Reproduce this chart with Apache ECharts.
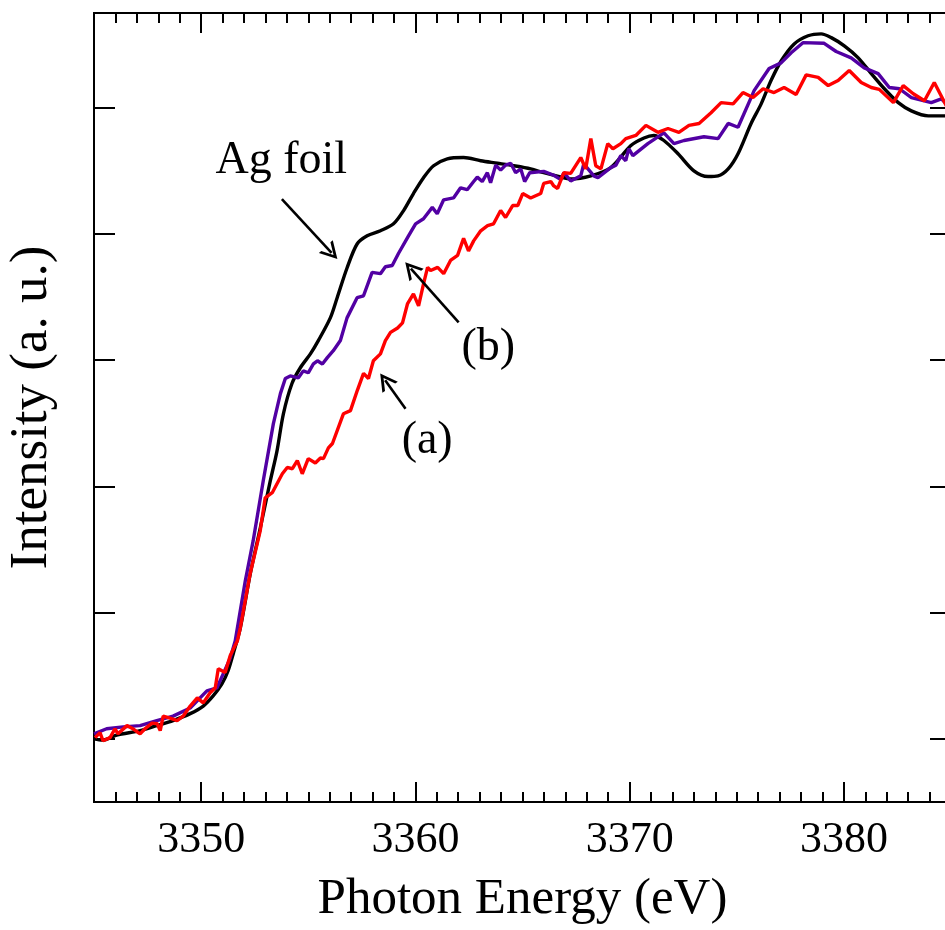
<!DOCTYPE html>
<html>
<head>
<meta charset="utf-8">
<script src="https://cdn.jsdelivr.net/npm/echarts@6/dist/echarts.min.js"></script>
<style>
html,body{margin:0;padding:0;overflow:hidden;background:#fff;}
#c{width:955px;height:930px;}
</style>
</head>
<body>
<div id="c"></div>
<script>
// ---- axis definitions ----
const xMin = 3345, xMax = 3385;
const xMajorTicks = [3350, 3360, 3370, 3380];
const yMin = -0.1, yMax = 1.15;
const yTicks = [0, 0.2, 0.4, 0.6, 0.8, 1.0];

// ---- series data [photon energy (eV), intensity (a.u.)] ----
const agFoil = [
[3345.0,0.000],[3345.4,-0.002],[3346.06,0.006],[3347.15,0.013],[3347.93,0.021],[3348.69,0.029],
[3349.49,0.040],[3350.10,0.052],[3350.56,0.068],[3350.97,0.087],[3351.26,0.108],[3351.50,0.135],
[3351.83,0.176],[3352.29,0.261],[3352.76,0.334],[3353.23,0.409],[3353.54,0.456],[3353.84,0.515],
[3354.24,0.563],[3354.63,0.588],[3355.10,0.610],[3355.47,0.631],[3356.03,0.667],[3356.35,0.699],
[3356.81,0.746],[3357.28,0.784],[3357.75,0.797],[3358.37,0.805],[3358.98,0.816],[3359.45,0.837],
[3359.91,0.864],[3360.38,0.889],[3360.85,0.908],[3361.49,0.919],[3362.25,0.921],[3363.05,0.916],
[3363.83,0.912],[3364.59,0.908],[3365.38,0.903],[3365.99,0.897],[3366.93,0.889],[3367.25,0.887],
[3368.19,0.892],[3369.12,0.905],[3370.06,0.940],[3370.67,0.952],[3371.13,0.956],[3371.60,0.948],
[3372.26,0.927],[3373.00,0.900],[3373.66,0.891],[3374.13,0.892],[3374.60,0.903],[3375.06,0.927],
[3375.67,0.975],[3376.14,1.006],[3376.60,1.043],[3377.07,1.074],[3377.68,1.101],[3378.33,1.114],
[3378.94,1.117],[3379.41,1.111],[3380.02,1.098],[3380.67,1.079],[3381.28,1.054],[3381.89,1.030],
[3382.54,1.008],[3383.15,0.995],[3383.94,0.987],[3384.78,0.987],[3385.0,0.987]
];

const sampleB = [
[3345.0,0.008],[3345.59,0.016],[3346.36,0.019],[3347.15,0.021],[3347.93,0.029],[3348.69,0.036],
[3349.49,0.049],[3350.27,0.076],[3350.74,0.081],[3351.03,0.103],[3351.36,0.128],[3351.59,0.155],
[3352.06,0.250],[3352.43,0.314],[3352.90,0.409],[3353.37,0.499],[3353.70,0.547],[3353.93,0.571],
[3354.16,0.575],[3354.54,0.572],[3354.77,0.583],[3355.00,0.580],[3355.24,0.594],[3355.43,0.599],
[3355.66,0.594],[3355.89,0.604],[3356.17,0.615],[3356.50,0.631],[3356.81,0.667],[3357.28,0.699],
[3357.58,0.702],[3357.98,0.739],[3358.37,0.737],[3358.60,0.748],[3358.92,0.750],[3359.21,0.769],
[3359.68,0.797],[3360.01,0.816],[3360.38,0.824],[3360.79,0.842],[3361.02,0.832],[3361.32,0.854],
[3361.78,0.857],[3362.11,0.873],[3362.42,0.870],[3362.72,0.883],[3362.89,0.890],[3363.12,0.883],
[3363.36,0.897],[3363.51,0.881],[3363.75,0.909],[3363.98,0.901],[3364.21,0.909],[3364.45,0.912],
[3364.68,0.897],[3364.92,0.903],[3365.10,0.883],[3365.34,0.897],[3365.99,0.899],[3366.46,0.893],
[3366.79,0.886],[3366.93,0.897],[3367.25,0.884],[3367.72,0.892],[3367.86,0.911],[3368.33,0.892],
[3368.52,0.889],[3369.12,0.905],[3369.36,0.909],[3369.59,0.924],[3369.82,0.916],[3369.96,0.935],
[3370.15,0.924],[3370.85,0.943],[3371.60,0.960],[3372.07,0.943],[3372.54,0.948],[3373.47,0.954],
[3374.13,0.951],[3374.60,0.975],[3375.06,0.969],[3375.67,1.016],[3375.81,1.027],[3376.51,1.062],
[3377.07,1.071],[3377.54,1.087],[3378.09,1.103],[3379.08,1.102],[3379.64,1.089],[3380.34,1.079],
[3380.95,1.063],[3381.60,1.054],[3382.12,1.032],[3382.59,1.030],[3383.15,1.016],[3384.08,1.008],
[3384.55,1.014],[3384.78,1.006],[3385.0,0.998]
];

const sampleA = [
[3345.05,0.002],[3345.28,0.010],[3345.42,-0.003],[3345.75,0.002],[3345.98,0.016],[3346.12,0.008],
[3346.54,0.021],[3346.82,0.016],[3347.15,0.008],[3347.38,0.016],[3347.71,0.025],[3347.95,0.024],
[3348.09,0.013],[3348.23,0.036],[3348.55,0.033],[3348.88,0.029],[3349.16,0.036],[3349.49,0.052],
[3349.82,0.065],[3350.10,0.057],[3350.42,0.073],[3350.66,0.081],[3350.80,0.111],[3351.12,0.105],
[3351.36,0.132],[3351.69,0.155],[3351.83,0.176],[3352.29,0.262],[3352.76,0.330],[3352.99,0.382],
[3353.32,0.390],[3353.79,0.420],[3354.02,0.430],[3354.26,0.428],[3354.49,0.441],[3354.72,0.420],
[3355.00,0.444],[3355.33,0.437],[3355.57,0.445],[3355.71,0.444],[3355.94,0.461],[3356.13,0.468],
[3356.64,0.515],[3356.97,0.520],[3357.30,0.553],[3357.58,0.579],[3357.81,0.571],[3358.04,0.599],
[3358.37,0.610],[3358.60,0.631],[3358.84,0.644],[3359.17,0.651],[3359.40,0.659],[3359.63,0.689],
[3359.91,0.705],[3360.15,0.686],[3360.38,0.721],[3360.57,0.747],[3360.71,0.742],[3361.04,0.747],
[3361.32,0.737],[3361.64,0.758],[3361.97,0.766],[3362.25,0.793],[3362.48,0.773],[3362.72,0.789],
[3363.05,0.805],[3363.37,0.813],[3363.65,0.816],[3363.98,0.837],[3364.21,0.826],[3364.54,0.845],
[3364.78,0.845],[3365.01,0.864],[3365.38,0.857],[3365.85,0.864],[3365.99,0.880],[3366.32,0.883],
[3366.46,0.876],[3366.64,0.872],[3366.93,0.897],[3367.25,0.896],[3367.72,0.921],[3367.95,0.903],
[3368.19,0.951],[3368.42,0.908],[3368.66,0.903],[3368.98,0.943],[3369.22,0.935],[3369.59,0.943],
[3369.82,0.951],[3370.29,0.956],[3370.76,0.972],[3371.32,0.961],[3371.79,0.967],[3372.30,0.961],
[3372.77,0.972],[3373.24,0.975],[3373.80,0.992],[3374.27,1.008],[3374.83,1.006],[3375.29,1.024],
[3375.76,1.016],[3376.23,1.030],[3376.74,1.024],[3377.21,1.032],[3377.77,1.021],[3378.24,1.052],
[3378.80,1.048],[3379.27,1.035],[3379.73,1.043],[3380.25,1.059],[3380.81,1.040],[3381.28,1.032],
[3381.65,1.029],[3382.31,1.008],[3382.77,1.035],[3383.24,1.022],[3383.76,1.011],[3384.22,1.040],
[3384.78,1.003],[3385.0,0.995]
];

// ---- annotations (data coordinates) ----
const labelTexts = ['Ag foil', '(b)', '(a)'];
const labelPositions = [[3353.74, 0.916], [3363.40, 0.620], [3360.55, 0.472]];
const arrowTails = [[3353.77, 0.855], [3362.02, 0.660], [3359.54, 0.523]];
const arrowHeads = [[3356.09, 0.770], [3359.79, 0.745], [3358.59, 0.568]];

const FONT = '"Liberation Serif", "Times New Roman", serif';
const CHEVRON = 'path://M0,18 L10,0 L20,18 L16.6,18 L10,6.0 L3.4,18 Z';

const axisLineStyle = { show: true, onZero: false, lineStyle: { color: '#000', width: 2 } };
const tickStyle = { color: '#000', width: 2 };

function xAxisDef(position, major) {
  const def = {
    type: 'value', min: xMin, max: xMax, position: position,
    axisLine: axisLineStyle, splitLine: { show: false },
    axisTick: { show: true, inside: true, length: major ? 20 : 10, lineStyle: tickStyle },
    axisLabel: { show: false }
  };
  if (major) {
    def.axisTick.customValues = xMajorTicks;
    def.axisLabel = {
      show: position === 'bottom', customValues: xMajorTicks,
      formatter: v => String(v),
      fontSize: 44, fontFamily: FONT, color: '#000', margin: 16
    };
  } else {
    def.interval = 1;
  }
  if (major && position === 'bottom') {
    def.name = 'Photon Energy (eV)';
    def.nameLocation = 'middle';
    def.nameGap = 72;
    def.nameTextStyle = { fontSize: 51, fontFamily: FONT, color: '#000' };
  }
  return def;
}

function yAxisDef(position) {
  const def = {
    type: 'value', min: yMin, max: yMax, position: position,
    axisLine: axisLineStyle, splitLine: { show: false },
    axisTick: { show: true, inside: true, length: 21, lineStyle: tickStyle, customValues: yTicks },
    axisLabel: { show: false, customValues: yTicks }
  };
  if (position === 'left') {
    def.name = 'Intensity (a. u.)';
    def.nameLocation = 'middle';
    def.nameGap = 35;
    def.nameRotate = 90;
    def.nameTextStyle = { fontSize: 53, fontFamily: FONT, color: '#000' };
  }
  return def;
}

const chart = echarts.init(document.getElementById('c'), null, { renderer: 'canvas' });

const option = {
  animation: false,
  backgroundColor: '#fff',
  grid: { left: 94, right: 4, top: 13, bottom: 128, containLabel: false, outerBoundsMode: 'none' },
  xAxis: [xAxisDef('bottom', false), xAxisDef('bottom', true), xAxisDef('top', false), xAxisDef('top', true)],
  yAxis: [yAxisDef('left'), yAxisDef('right')],
  series: [
    {
      name: 'Ag foil', type: 'line', xAxisIndex: 0, yAxisIndex: 0,
      data: agFoil, showSymbol: false, symbol: 'none', smooth: 0.3,
      lineStyle: { color: '#000', width: 3.4 }, z: 2,
      markLine: {
        silent: true, animation: false,
        symbol: ['none', CHEVRON], symbolSize: 18,
        lineStyle: { color: '#000', width: 2.6, type: 'solid' },
        label: { show: false },
        emphasis: { disabled: true },
        data: arrowTails.map((t, i) => [
          { coord: t, symbol: 'none' },
          { coord: arrowHeads[i], symbol: CHEVRON, symbolSize: [19, 17] }
        ])
      },
      markPoint: {
        silent: true, animation: false,
        symbol: 'rect', symbolSize: 1,
        itemStyle: { color: 'rgba(0,0,0,0)' },
        label: { show: true, position: 'inside', color: '#000', fontSize: 46, fontFamily: FONT },
        data: labelTexts.map((t, i) => ({ coord: labelPositions[i], value: t, label: { formatter: t } }))
      }
    },
    {
      name: '(b)', type: 'line', xAxisIndex: 0, yAxisIndex: 0,
      data: sampleB, showSymbol: false, symbol: 'none',
      lineStyle: { color: '#5200A3', width: 3.4 }, z: 3
    },
    {
      name: '(a)', type: 'line', xAxisIndex: 0, yAxisIndex: 0,
      data: sampleA, showSymbol: false, symbol: 'none',
      lineStyle: { color: '#FF0000', width: 3.4 }, z: 4
    }
  ]
};
chart.setOption(option);
</script>
</body>
</html>
